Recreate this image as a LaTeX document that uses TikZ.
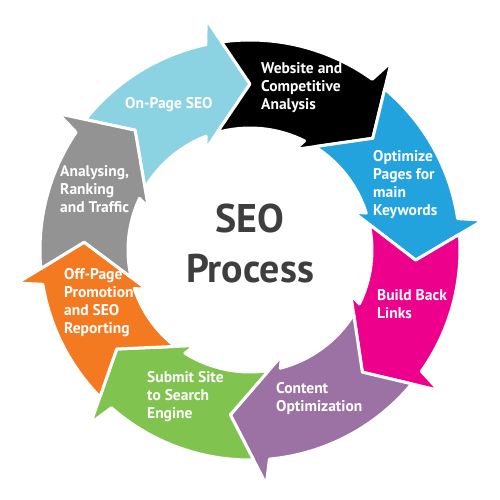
\documentclass[tikz,border=0pt]{standalone}
\usepackage{fontspec}
\setmainfont{PT Sans}
\definecolor{segcyan}{HTML}{8BD3E2}
\definecolor{segblack}{HTML}{000000}
\definecolor{segblue}{HTML}{23A3DD}
\definecolor{segmagenta}{HTML}{EC008C}
\definecolor{segpurple}{HTML}{9B72A3}
\definecolor{seggreen}{HTML}{80C34F}
\definecolor{segorange}{HTML}{F47A22}
\definecolor{seggray}{HTML}{939393}
\definecolor{centertext}{HTML}{3E3E3E}
% #1 colour, #2 tip angle, #3 angular length back to previous tip
\newcommand\seoseg[3]{%
  \begin{scope}[rotate=#2]
    \path[segstyle, fill=#1]
      ({#3+7.79}:210pt) arc[start angle={#3+7.79}, end angle=12.10, radius=210pt]
      -- (10.78:235.2pt) -- (0:166pt) -- (23.54:110.2pt) -- (21.14:122pt)
      arc[start angle=21.14, end angle={#3+15.61}, radius=122pt]
      -- ({#3}:166pt) -- cycle;
  \end{scope}}
\begin{document}
\begin{tikzpicture}[x=1pt,y=1pt,
  segstyle/.style={draw=white, line width=3pt, line join=round},
  lab/.style={text=white, font=\bfseries\fontsize{15.5}{18}\selectfont, align=left, anchor=west, inner sep=0pt},
  title/.style={text=centertext, font=\bfseries\fontsize{40}{50}\selectfont, align=center, inner sep=0pt}]
\useasboundingbox[fill=white] (-250,-250) rectangle (250,250);
\seoseg{segcyan}{90}{43.8}
\seoseg{segblack}{42.3}{47.7}
\seoseg{segblue}{-3.5}{45.8}
\seoseg{segmagenta}{-47.4}{43.9}
\seoseg{segpurple}{-96.8}{49.4}
\seoseg{seggreen}{-143.4}{46.6}
\seoseg{segorange}{-182.7}{39.3}
\seoseg{seggray}{-226.2}{43.5}
\node[lab] (onpage) at (-125,145) {On-Page SEO};
\node[lab] (website) at (11,162) {Website and\\Competitive\\Analysis};
\node[lab] (optimize) at (123,65.5) {Optimize\\Pages for\\main\\Keywords};
\node[lab] (backlinks) at (127,-54) {Build Back\\Links};
\node[lab] (content) at (26,-149) {Content\\Optimization};
\node[lab] (submit) at (-103,-146.5) {Submit Site\\to Search\\Engine};
\node[lab] (offpage) at (-186,-53) {Off-Page\\Promotion\\and SEO\\Reporting};
\node[lab] (analysing) at (-190,61) {Analysing,\\Ranking\\and Traffic};
\node[title] (seo) at (0,6) {SEO\\Process};
\end{tikzpicture}
\end{document}
